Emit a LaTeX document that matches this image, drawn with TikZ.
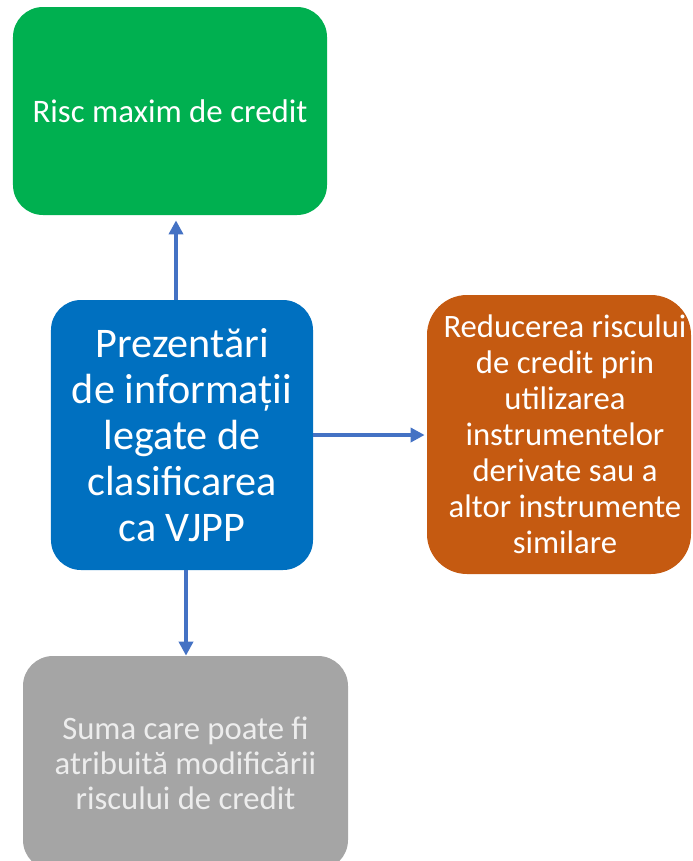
\documentclass[tikz,border=0pt]{standalone}
\usepackage{fontspec}
\setmainfont{Carlito}
\usetikzlibrary{arrows.meta}

\definecolor{boxgreen}{HTML}{00B050}
\definecolor{boxblue}{HTML}{0070C0}
\definecolor{boxorange}{HTML}{C55A11}
\definecolor{boxgray}{HTML}{A5A5A5}
\definecolor{linkblue}{HTML}{4472C4}

\begin{document}
\begin{tikzpicture}[>={Triangle[length=8pt,width=8pt]},
    box/.style={rounded corners=0.6cm, inner sep=0pt, align=center, text=white},
    link/.style={->, draw=linkblue, line width=2pt}]
    \useasboundingbox (0,0) rectangle (13.86,-17.22);
    \clip (0,0) rectangle (13.86,-17.22);

    % square corner showing under the blue box
    \fill[boxblue!90!black] (1.20,-10.0) rectangle (5.96,-11.24);

    % Boxes
    \node[box, fill=boxgreen, minimum width=6.28cm, minimum height=4.16cm,
          font=\fontsize{18.7}{22}\selectfont] (green) at (3.40,-2.22) {Risc maxim de credit};
    \node[box, fill=boxblue, minimum width=5.24cm, minimum height=5.40cm,
          font=\fontsize{24}{26.2}\selectfont] (blue) at (3.64,-8.70)
          {Prezentări\\de informații\\legate de\\clasificarea\\ca VJPP};
    \node[box, fill=boxorange, rounded corners=0.8cm, minimum width=5.28cm, minimum height=5.58cm,
          font=\fontsize{18.6}{20.5}\selectfont] (orange) at (11.18,-8.69)
          {\hspace*{0.24cm}Reducerea riscului\\\hspace*{0.24cm}de credit prin\\\hspace*{0.24cm}utilizarea\\
           \hspace*{0.24cm}instrumentelor\\\hspace*{0.24cm}derivate sau a\\\hspace*{0.24cm}altor instrumente\\
           \hspace*{0.24cm}similare};
    \node[box, fill=boxgray, text=white!93!black, minimum width=6.50cm, minimum height=4.28cm,
          font=\fontsize{18.6}{19.9}\selectfont] (gray) at (3.71,-15.26)
          {Suma care poate fi\\atribuită modificării\\riscului de credit};

    % Arrows
    \coordinate (upx) at (3.52,0);
    \coordinate (dnx) at (3.72,0);
    \draw[link, shorten >=0.1cm] (blue.north -| upx) -- (green.south -| upx);
    \draw[link, shorten >=0.04cm] (blue.east) -- (orange.west |- blue.east);
    \draw[link] (blue.south -| dnx) -- (gray.north -| dnx);
\end{tikzpicture}
\end{document}
